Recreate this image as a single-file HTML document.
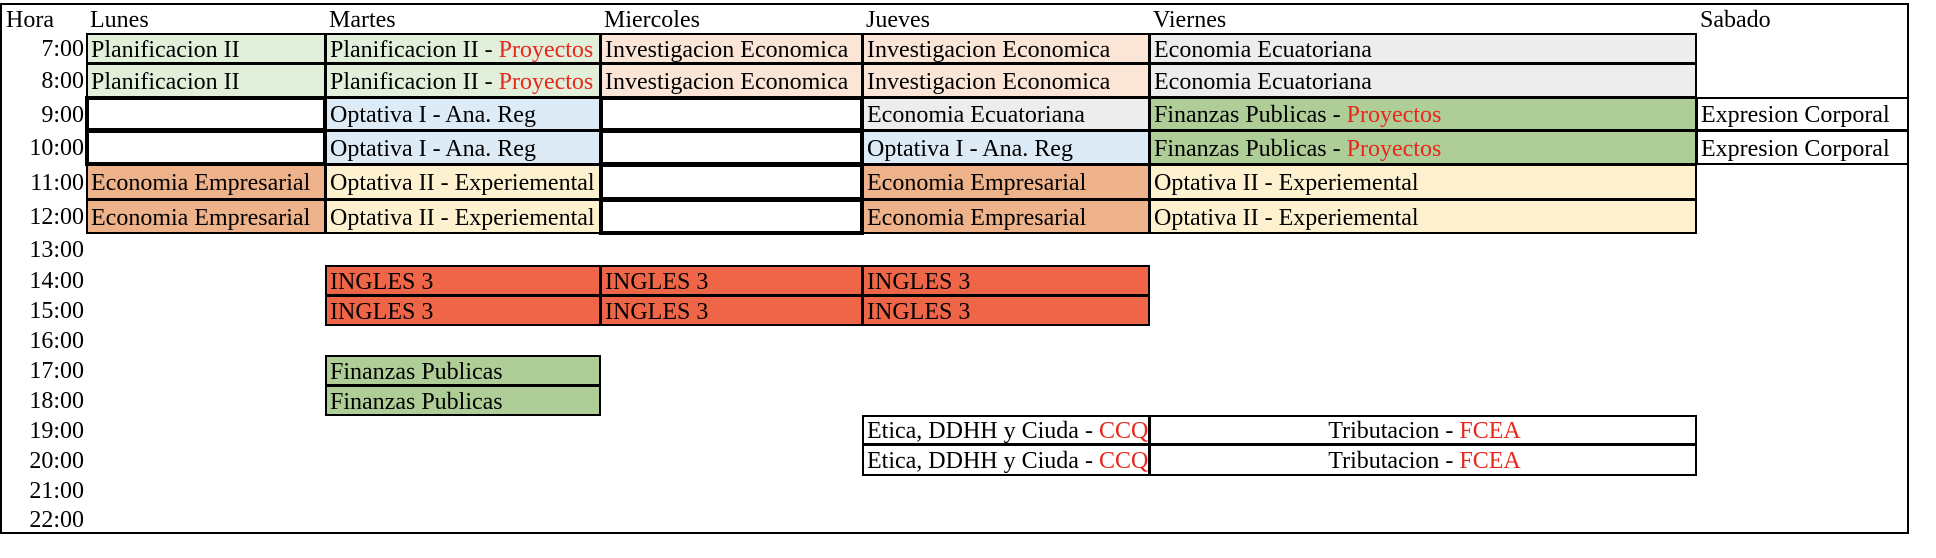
<!DOCTYPE html>
<html><head><meta charset="utf-8"><style>
*{box-sizing:border-box;margin:0;padding:0}
body{width:1936px;height:558px;background:#fff;position:relative;overflow:hidden;font-family:"Liberation Serif",serif;font-size:24px;color:#000}
.c{position:absolute;border:2px solid #000;padding-left:3px;padding-top:3px;white-space:nowrap;overflow:hidden;display:flex;align-items:center}
.t{position:absolute;white-space:nowrap;display:flex;align-items:center;padding-top:3px}
.h{position:absolute;width:84px;text-align:right;display:flex;align-items:center;justify-content:flex-end;padding-top:3px}
.w{border-width:4px}
.r{color:#e8281c}
.g1{background:#e2efda}.pe{background:#fbe5d6}.gr{background:#ededed}.bl{background:#ddebf7}
.or{background:#eeb38b}.ye{background:#fdf1cf}.gn{background:#afcd97}.in{background:#ee6548}
</style></head><body>
<div style="position:absolute;left:0;top:3px;width:1909px;height:531px;border:2px solid #000"></div>
<div class="t" style="left:6px;top:4px;height:29px">Hora</div>
<div class="t" style="left:90px;top:4px;height:29px">Lunes</div>
<div class="t" style="left:329px;top:4px;height:29px">Martes</div>
<div class="t" style="left:604px;top:4px;height:29px">Miercoles</div>
<div class="t" style="left:866px;top:4px;height:29px">Jueves</div>
<div class="t" style="left:1153px;top:4px;height:29px">Viernes</div>
<div class="t" style="left:1700px;top:4px;height:29px">Sabado</div>

<div class="h" style="top:33px;height:30px">7:00</div>
<div class="h" style="top:63px;height:34px">8:00</div>
<div class="h" style="top:97px;height:33px">9:00</div>
<div class="h" style="top:130px;height:34px">10:00</div>
<div class="h" style="top:164px;height:35px">11:00</div>
<div class="h" style="top:199px;height:34px">12:00</div>
<div class="h" style="top:233px;height:32px">13:00</div>
<div class="h" style="top:265px;height:30px">14:00</div>
<div class="h" style="top:295px;height:30px">15:00</div>
<div class="h" style="top:325px;height:30px">16:00</div>
<div class="h" style="top:355px;height:30px">17:00</div>
<div class="h" style="top:385px;height:30px">18:00</div>
<div class="h" style="top:415px;height:29px">19:00</div>
<div class="h" style="top:444px;height:31px">20:00</div>
<div class="h" style="top:475px;height:29px">21:00</div>
<div class="h" style="top:504px;height:29px">22:00</div>

<!-- Lunes -->
<div class="c g1" style="left:86px;top:33px;width:240px;height:31px">Planificacion II</div>
<div class="c g1" style="left:86px;top:63px;width:240px;height:35px">Planificacion II</div>
<div class="c w" style="left:85px;top:96px;width:242px;height:36px"></div>
<div class="c w" style="left:85px;top:129px;width:242px;height:37px"></div>
<div class="c or" style="left:86px;top:164px;width:240px;height:36px">Economia Empresarial</div>
<div class="c or" style="left:86px;top:199px;width:240px;height:35px">Economia Empresarial</div>
<!-- Martes -->
<div class="c g1" style="left:325px;top:33px;width:276px;height:31px">Planificacion II -&nbsp;<span class="r">Proyectos</span></div>
<div class="c g1" style="left:325px;top:63px;width:276px;height:35px">Planificacion II -&nbsp;<span class="r">Proyectos</span></div>
<div class="c bl" style="left:325px;top:97px;width:276px;height:34px">Optativa I - Ana. Reg</div>
<div class="c bl" style="left:325px;top:130px;width:276px;height:35px">Optativa I - Ana. Reg</div>
<div class="c ye" style="left:325px;top:164px;width:276px;height:36px">Optativa II - Experiemental</div>
<div class="c ye" style="left:325px;top:199px;width:276px;height:35px">Optativa II - Experiemental</div>
<div class="c in" style="left:325px;top:265px;width:276px;height:31px">INGLES 3</div>
<div class="c in" style="left:325px;top:295px;width:276px;height:31px">INGLES 3</div>
<div class="c gn" style="left:325px;top:355px;width:276px;height:31px">Finanzas Publicas</div>
<div class="c gn" style="left:325px;top:385px;width:276px;height:31px">Finanzas Publicas</div>
<!-- Miercoles -->
<div class="c pe" style="left:600px;top:33px;width:263px;height:31px">Investigacion Economica</div>
<div class="c pe" style="left:600px;top:63px;width:263px;height:35px">Investigacion Economica</div>
<div class="c w" style="left:599px;top:96px;width:265px;height:36px"></div>
<div class="c w" style="left:599px;top:129px;width:265px;height:37px"></div>
<div class="c w" style="left:599px;top:163px;width:265px;height:38px"></div>
<div class="c w" style="left:599px;top:198px;width:265px;height:37px"></div>
<div class="c in" style="left:600px;top:265px;width:263px;height:31px">INGLES 3</div>
<div class="c in" style="left:600px;top:295px;width:263px;height:31px">INGLES 3</div>
<!-- Jueves -->
<div class="c pe" style="left:862px;top:33px;width:288px;height:31px">Investigacion Economica</div>
<div class="c pe" style="left:862px;top:63px;width:288px;height:35px">Investigacion Economica</div>
<div class="c gr" style="left:862px;top:97px;width:288px;height:34px">Economia Ecuatoriana</div>
<div class="c bl" style="left:862px;top:130px;width:288px;height:35px">Optativa I - Ana. Reg</div>
<div class="c or" style="left:862px;top:164px;width:288px;height:36px">Economia Empresarial</div>
<div class="c or" style="left:862px;top:199px;width:288px;height:35px">Economia Empresarial</div>
<div class="c in" style="left:862px;top:265px;width:288px;height:31px">INGLES 3</div>
<div class="c in" style="left:862px;top:295px;width:288px;height:31px">INGLES 3</div>
<div class="c" style="left:862px;top:415px;width:288px;height:30px">Etica, DDHH y Ciuda -&nbsp;<span class="r">CCQE</span></div>
<div class="c" style="left:862px;top:444px;width:288px;height:32px">Etica, DDHH y Ciuda -&nbsp;<span class="r">CCQE</span></div>
<!-- Viernes -->
<div class="c gr" style="left:1149px;top:33px;width:548px;height:31px">Economia Ecuatoriana</div>
<div class="c gr" style="left:1149px;top:63px;width:548px;height:35px">Economia Ecuatoriana</div>
<div class="c gn" style="left:1149px;top:97px;width:548px;height:34px">Finanzas Publicas -&nbsp;<span class="r">Proyectos</span></div>
<div class="c gn" style="left:1149px;top:130px;width:548px;height:35px">Finanzas Publicas -&nbsp;<span class="r">Proyectos</span></div>
<div class="c ye" style="left:1149px;top:164px;width:548px;height:36px">Optativa II - Experiemental</div>
<div class="c ye" style="left:1149px;top:199px;width:548px;height:35px">Optativa II - Experiemental</div>
<div class="c" style="left:1149px;top:415px;width:548px;height:30px;justify-content:center">Tributacion -&nbsp;<span class="r">FCEA</span></div>
<div class="c" style="left:1149px;top:444px;width:548px;height:32px;justify-content:center">Tributacion -&nbsp;<span class="r">FCEA</span></div>
<!-- Sabado -->
<div class="c" style="left:1696px;top:97px;width:213px;height:34px">Expresion Corporal</div>
<div class="c" style="left:1696px;top:130px;width:213px;height:35px">Expresion Corporal</div>
</body></html>
